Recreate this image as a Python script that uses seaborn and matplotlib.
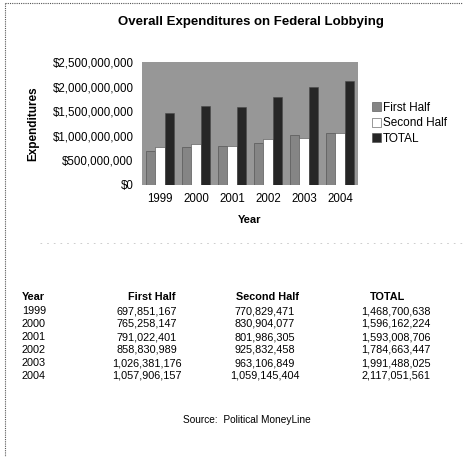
import matplotlib
matplotlib.use('Agg')
import matplotlib.pyplot as plt
import matplotlib.ticker as mticker
from matplotlib.lines import Line2D
import pandas as pd
import seaborn as sns

years = ['1999', '2000', '2001', '2002', '2003', '2004']
first_half = [697851167, 765258147, 791022401, 858830989, 1026381176, 1057906157]
second_half = [770829471, 830904077, 801986305, 925832458, 963106849, 1059145404]
total = [1468700638, 1596162224, 1593008706, 1784663447, 1991488025, 2117051561]
series_names = ['First Half', 'Second Half', 'TOTAL']
y_ticks = [0, 500000000, 1000000000, 1500000000, 2000000000, 2500000000]

# long form table for seaborn
df = pd.DataFrame({
    'Year': years * 3,
    'Expenditures': first_half + second_half + total,
    'Series': [series_names[0]] * 6 + [series_names[1]] * 6 + [series_names[2]] * 6,
})

sns.set_style('white', {'text.color': 'black', 'axes.labelcolor': 'black',
                        'xtick.color': 'black', 'ytick.color': 'black'})
plt.rcParams['font.family'] = ['Liberation Sans', 'DejaVu Sans']

fig = plt.figure(figsize=(4.64, 4.57), dpi=100)
W, H = 464, 457


def fx(px):
    return px / W


def fy(py):
    return 1 - py / H


# chart area
ax = fig.add_axes([fx(142), fy(185), fx(358) - fx(142), fy(62) - fy(185)])
ax.set_facecolor('#979797')
sns.barplot(data=df, x='Year', y='Expenditures', hue='Series',
            palette=['#858585', '#ffffff', '#262626'], width=0.8,
            edgecolor='#4a4a4a', linewidth=0.4, ax=ax)
ax.set_ylim(0, 2500000000)
ax.set_yticks(y_ticks)
ax.yaxis.set_major_formatter(mticker.FuncFormatter(lambda v, p: '${:,.0f}'.format(v)))
ax.tick_params(axis='y', length=0, labelsize=8.3, pad=6)
ax.tick_params(axis='x', length=0, labelsize=8.3, pad=6)
for sp in ax.spines.values():
    sp.set_visible(False)
ax.set_xlabel('Year', fontsize=8, fontweight='bold', labelpad=7)
ax.set_ylabel('Expenditures', fontsize=8.5, fontweight='bold', labelpad=10)

handles, labels = ax.get_legend_handles_labels()
ax.legend_.remove()
fig.legend(handles, labels, loc='upper left', bbox_to_anchor=(fx(366), fy(96)),
           frameon=False, fontsize=8.5, handlelength=0.8, handleheight=0.8,
           handletextpad=0.15, labelspacing=0.3, borderpad=0)

fig.text(fx(251), fy(22), 'Overall Expenditures on Federal Lobbying',
         ha='center', va='center', fontsize=9.5, fontweight='bold')

# frame lines of the scanned page
fig.add_artist(Line2D([fx(5), fx(5)], [fy(3), fy(457)], color='#555555', lw=0.8, ls=(0, (1, 1))))
fig.add_artist(Line2D([fx(5), fx(464)], [fy(3), fy(3)], color='#555555', lw=0.8, ls=(0, (1, 1))))
fig.add_artist(Line2D([fx(40), fx(462)], [fy(243), fy(243)], color='#c4c4c4', lw=0.6, ls=(0, (2, 6))))

# table below the chart
row_y = [297, 311, 324, 337, 350, 363, 376]
fs = 7.8
fig.text(fx(22), fy(row_y[0]), 'Year', ha='left', va='center', fontsize=fs, fontweight='bold')
fig.text(fx(152), fy(row_y[0]), 'First Half', ha='center', va='center', fontsize=fs, fontweight='bold')
fig.text(fx(267), fy(row_y[0]), 'Second Half', ha='center', va='center', fontsize=fs, fontweight='bold')
fig.text(fx(388), fy(row_y[0]), 'TOTAL', ha='center', va='center', fontsize=fs, fontweight='bold')
for i, yr in enumerate(years):
    yy = fy(row_y[i + 1])
    fig.text(fx(22), yy, yr, ha='left', va='center', fontsize=fs)
    fig.text(fx(147), yy, '{:,}'.format(first_half[i]), ha='center', va='center', fontsize=fs)
    fig.text(fx(265), yy, '{:,}'.format(second_half[i]), ha='center', va='center', fontsize=fs)
    fig.text(fx(396), yy, '{:,}'.format(total[i]), ha='center', va='center', fontsize=fs)

fig.text(fx(247), fy(420), 'Source:  Political MoneyLine', ha='center', va='center', fontsize=7.3)

fig.savefig('out.png', dpi=100)
